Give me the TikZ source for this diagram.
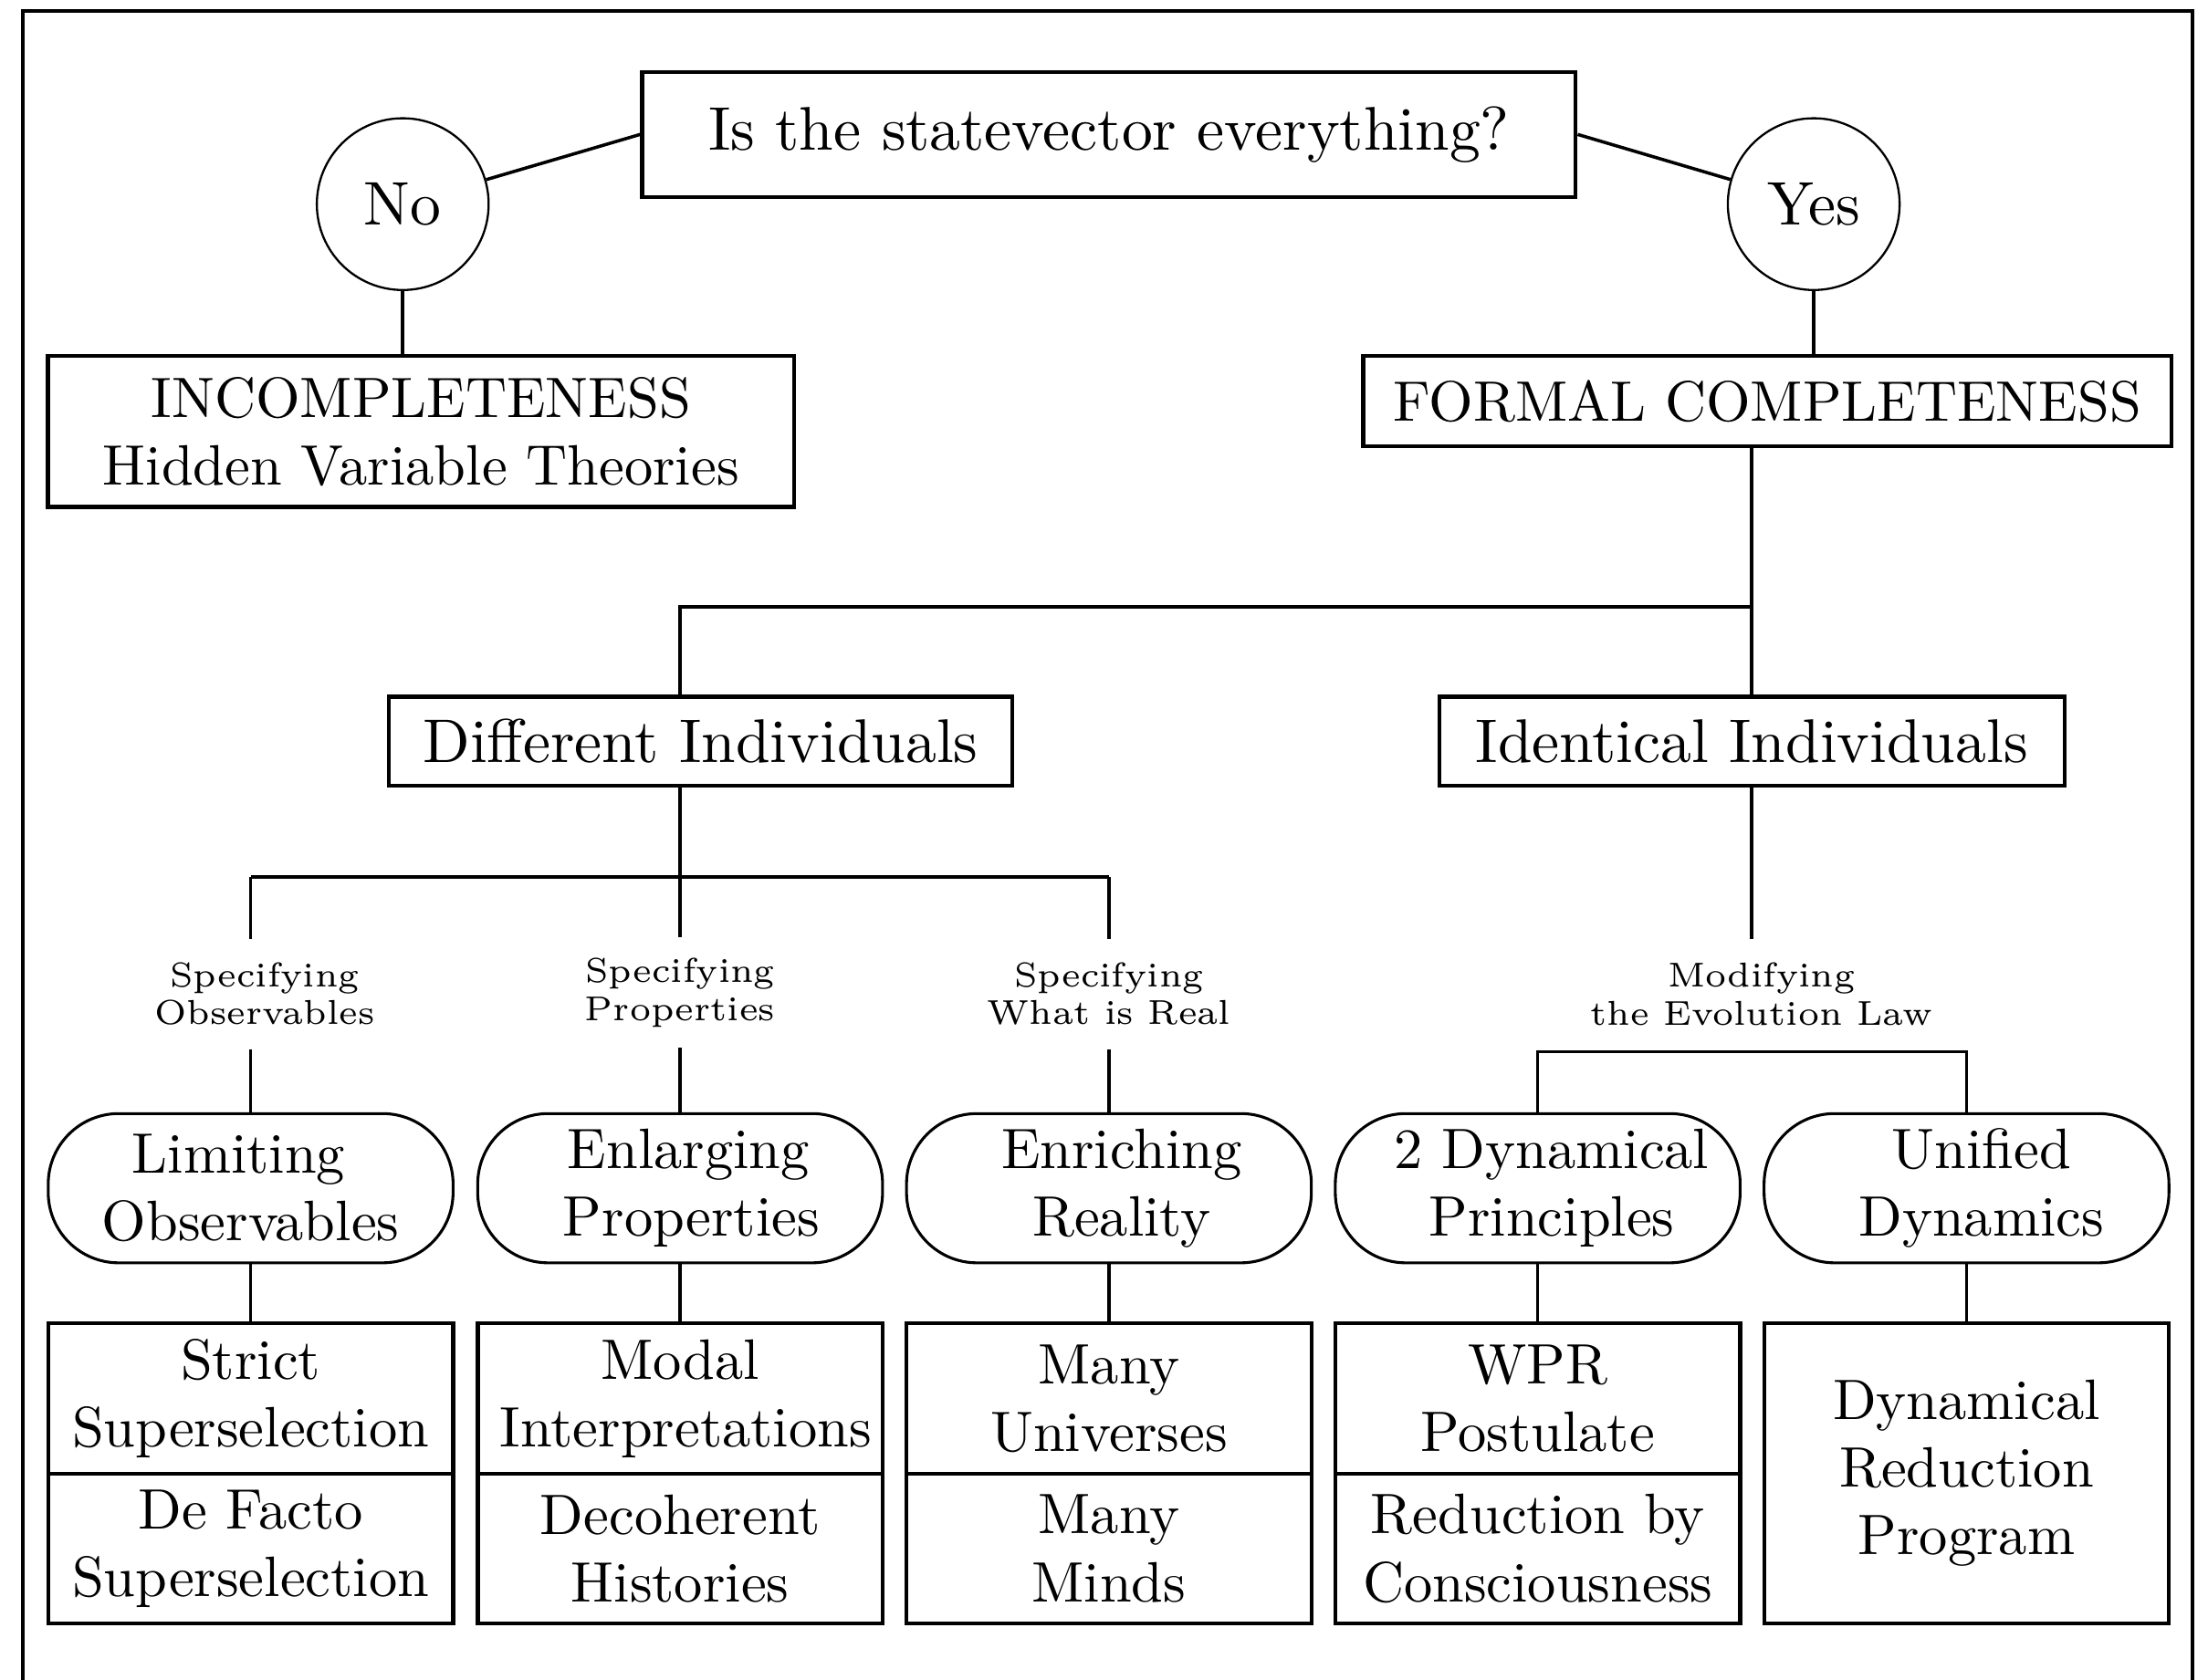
\documentclass[tikz,border=0pt]{standalone}
\usepackage{fontspec}
\setmainfont{lmroman10-regular.otf}
\newfontfamily\labelfamily{lmroman6-regular.otf}

% text sizes
\newcommand\bigtext{\fontsize{43.8}{52}\selectfont}
\newcommand\midtext{\fontsize{40.5}{48}\selectfont}
\newcommand\smalltext{\labelfamily\fontsize{24.5}{27}\selectfont}

\tikzset{
  frame/.style={line width=2.5pt, line cap=rect},
  conn/.style={line width=2.3pt},
  boxed/.style={draw, rectangle, line width=2.8pt, inner sep=0pt, align=center, font=\midtext},
  answer/.style={draw, circle, line width=1.5pt, inner sep=0pt, minimum size=122pt, font=\bigtext},
  oval/.style={draw, rectangle, rounded corners=50pt, line width=2pt, inner sep=0pt,
    minimum width=287.5pt, minimum height=106pt, align=center, font=\midtext},
  cell/.style={boxed, minimum width=287.5pt},
  branchlabel/.style={inner sep=0pt, minimum height=78pt, align=center, font=\smalltext}
}

\begin{document}
\begin{tikzpicture}[x=1pt, y=-1pt]
\useasboundingbox (0,0) rectangle (1568,1193);

% open frame around the whole chart
\draw[frame] (16,1220) -- (16,8) -- (1557,8) -- (1557,1220);

% question and the two answers
\node[boxed, font=\bigtext, minimum width=663pt, minimum height=89pt] (q) at (787.5,95.5) {Is the statevector everything?};
\node[answer] (no) at (286,145) {No};
\node[answer] (yes) at (1288,145) {Yes};

\node[boxed, minimum width=530pt, minimum height=107pt] (inc) at (299,306.5) {INCOMPLETENESS\\Hidden Variable Theories};
\node[boxed, minimum width=574pt, minimum height=64pt] (fc) at (1255,285) {FORMAL COMPLETENESS};

% individuals
\node[boxed, font=\bigtext, minimum width=443pt, minimum height=63pt] (di) at (497.5,526.5) {Different Individuals};
\node[boxed, font=\bigtext, minimum width=444pt, minimum height=63pt] (ii) at (1244,526.5) {Identical Individuals};

% branch labels
\node[branchlabel] (l1) at (188,706) {Specifying\\Observables};
\node[branchlabel] (l2) at (483,705) {Specifying\\Properties};
\node[branchlabel] (l3) at (787.5,706) {Specifying\\What is Real};
\node[branchlabel] (l4) at (1251,706) {Modifying\\the Evolution Law};

% strategies
\node[oval] (s1) at (178,844) {Limiting\hspace*{17pt}\\Observables};
\node[oval] (s2) at (483,844) {\hspace*{12pt}Enlarging\\\hspace*{16pt}Properties};
\node[oval] (s3) at (787.5,844) {\hspace*{18pt}Enriching\\\hspace*{18pt}Reality};
\node[oval] (s4) at (1092,844) {\hspace*{20pt}2 Dynamical\\\hspace*{20pt}Principles};
\node[oval] (s5) at (1396.5,844) {\hspace*{21pt}Unified\\\hspace*{21pt}Dynamics};

% interpretations
\node[cell, minimum height=107pt] (b1t) at (178,993.5) {Strict\\Superselection};
\node[cell, minimum height=106pt] (b1b) at (178,1100) {De Facto\\Superselection};
\node[cell, minimum height=107pt] (b2t) at (483,993.5) {Modal\\\hspace*{8pt}Interpretations};
\node[cell, minimum height=106pt] (b2b) at (483,1100) {Decoherent\\Histories};
\node[cell, minimum height=107pt] (b3t) at (787.5,993.5) {Many\\Universes};
\node[cell, minimum height=106pt] (b3b) at (787.5,1100) {Many\\Minds};
\node[cell, minimum height=107pt] (b4t) at (1092,993.5) {WPR\\Postulate};
\node[cell, minimum height=106pt] (b4b) at (1092,1100) {Reduction by\\Consciousness};
\node[cell, minimum height=213pt] (b5) at (1396.5,1046.5) {Dynamical\\Reduction\\Program};

% junction points
\coordinate (jA) at (1244,431);
\coordinate (jB) at (483,431);
\coordinate (kA) at (483,623);
\coordinate (kB) at (1244,747);

% connectors
\draw[conn] (q.west) -- (no);
\draw[conn] (q.east) -- (yes);
\draw[conn] (no.south) -- (no.south |- inc.north);
\draw[conn] (yes.south) -- (yes.south |- fc.north);
\draw[conn] (fc.south -| ii.north) -- (ii.north);
\draw[conn] (jA) -- (jB) -- (jB |- di.north);
\draw[conn] (jB |- di.south) -- (kA);
\draw[conn] (kA -| s1) -- (kA -| s3);
\foreach \i in {1,2,3} {
  \draw[conn] (kA -| s\i) -- (s\i |- l\i.north);
  \draw[conn] (s\i |- l\i.south) -- (s\i.north);
}
\draw[conn] (ii.south) -- (ii.south |- l4.north);
\draw[conn] (s4.north) -- (s4.north |- kB) -- (s5.north |- kB) -- (s5.north);
\foreach \i in {1,2,3,4} {
  \draw[conn] (s\i.south) -- (b\i t.north);
}
\draw[conn] (s5.south) -- (b5.north);
\end{tikzpicture}
\end{document}
